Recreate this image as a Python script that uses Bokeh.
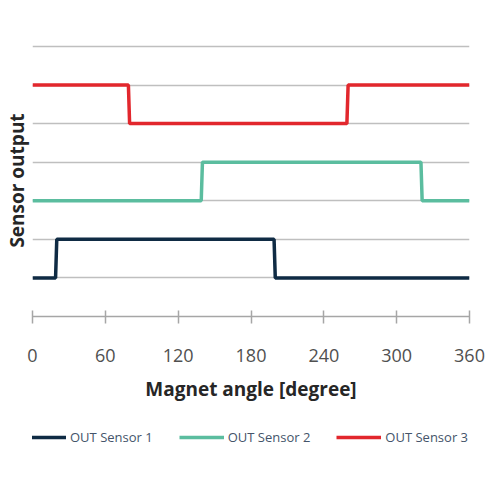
from bokeh.plotting import figure
from bokeh.models import Legend, LegendItem, FixedTicker, Range1d
from bokeh.layouts import column
from bokeh.embed import file_html
from bokeh.resources import INLINE

# data
angle_1 = [0, 19, 20, 199, 200, 360]
out_1 = [0, 0, 1, 1, 0, 0]
angle_2 = [0, 139, 140, 320, 321, 360]
out_2 = [2, 2, 3, 3, 2, 2]
angle_3 = [0, 79, 80, 259, 260, 360]
out_3 = [5, 5, 4, 4, 5, 5]
names = ["OUT Sensor 1", "OUT Sensor 2", "OUT Sensor 3"]
colors = ["#0f2b44", "#5bbd9f", "#e2272d"]
x_ticks = [0, 60, 120, 180, 240, 300, 360]
grid_levels = [0, 1, 2, 3, 4, 5, 6]

FONT = "Open Sans"

p = figure(width=492, height=410, output_backend="svg", toolbar_location=None,
           x_range=Range1d(0, 360), y_range=Range1d(-1, 6.05),
           min_border_left=32, min_border_right=23, min_border_top=44,
           min_border_bottom=94)
p.outline_line_color = None
p.background_fill_color = "white"

# x axis
p.xaxis.ticker = FixedTicker(ticks=x_ticks)
p.xaxis.axis_line_color = "#a6a6a6"
p.xaxis.axis_line_width = 1.5
p.xaxis.major_tick_line_color = "#a6a6a6"
p.xaxis.major_tick_line_width = 1.5
p.xaxis.major_tick_in = 6
p.xaxis.major_tick_out = 7
p.xaxis.minor_tick_line_color = None
p.xaxis.major_label_text_font = FONT
p.xaxis.major_label_text_font_size = "18px"
p.xaxis.major_label_text_color = "#505050"
p.xaxis.major_label_standoff = 25
p.xaxis.axis_label = "Magnet angle [degree]"
p.xaxis.axis_label_text_font = FONT
p.xaxis.axis_label_text_font_size = "19px"
p.xaxis.axis_label_text_font_style = "bold"
p.xaxis.axis_label_text_color = "#262626"
p.xaxis.axis_label_standoff = 11

# y axis: title only, gridlines at the output levels
p.yaxis.ticker = FixedTicker(ticks=[])
p.yaxis.axis_line_color = None
p.yaxis.major_tick_line_color = None
p.yaxis.minor_tick_line_color = None
p.yaxis.major_label_standoff = 0
p.yaxis.axis_label = "Sensor output"
p.yaxis.axis_label_text_font = FONT
p.yaxis.axis_label_text_font_size = "19px"
p.yaxis.axis_label_text_font_style = "bold"
p.yaxis.axis_label_text_color = "#262626"
p.yaxis.axis_label_standoff = 3

p.xgrid.grid_line_color = None
p.ygrid.ticker = FixedTicker(ticks=grid_levels)
p.ygrid.grid_line_color = "#bfbfbf"
p.ygrid.grid_line_width = 1.5

p.line(angle_1, out_1, line_color=colors[0], line_width=3.5)
p.line(angle_2, out_2, line_color=colors[1], line_width=3.5)
p.line(angle_3, out_3, line_color=colors[2], line_width=3.5)

# legend strip below the chart (single-point lines only carry the legend glyphs)
lg = figure(width=492, height=82, output_backend="svg", toolbar_location=None,
            x_range=Range1d(0, 360), y_range=Range1d(-1, 6),
            x_axis_location=None, y_axis_location=None,
            min_border_left=32, min_border_right=23, min_border_top=0,
            min_border_bottom=0)
lg.outline_line_color = None
lg.grid.grid_line_color = None
series_x = [angle_1, angle_2, angle_3]
series_y = [out_1, out_2, out_3]
items = []
for name, col, xs, ys in zip(names, colors, series_x, series_y):
    rr = lg.line(xs[:1], ys[:1], line_color=col, line_width=3.5)
    items.append(LegendItem(label=name, renderers=[rr]))

legend = Legend(items=items, orientation="horizontal", location=(-11, 45),
                glyph_width=45, glyph_height=20, label_standoff=4, spacing=26,
                padding=0, margin=0, border_line_color=None,
                background_fill_alpha=0,
                label_text_font=FONT, label_text_font_size="13px",
                label_text_color="#44546a")
lg.add_layout(legend, "center")

layout = column(p, lg, spacing=0)
open("out.html", "w").write(file_html(layout, INLINE))
